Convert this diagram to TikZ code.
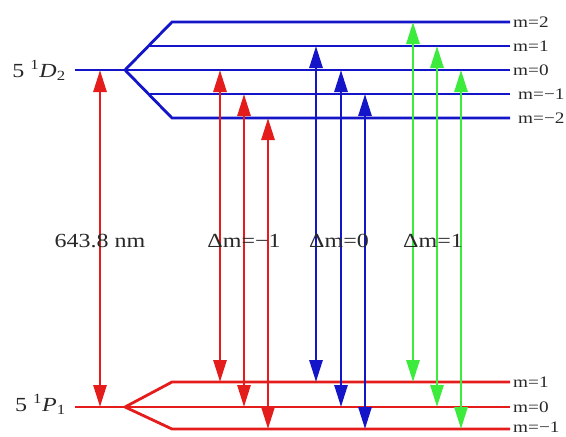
\documentclass[tikz,border=0pt]{standalone}
\usepackage{fontspec}
\setmainfont{Liberation Serif}
\usetikzlibrary{arrows.meta}
\definecolor{lvblue}{RGB}{20,20,200}
\definecolor{lvred}{RGB}{228,28,28}
\definecolor{lvgreen}{RGB}{60,235,60}
\definecolor{txtgray}{RGB}{40,40,40}
\begin{document}
\begin{tikzpicture}[x=1pt, y=-1pt]
  \tikzstyle{level}=[line width=2.8pt, line join=miter]
  \tikzstyle{trans}=[line width=2.8pt, {Triangle[length=22pt, width=13pt]}-{Triangle[length=22pt, width=13pt]}]
  \tikzstyle{mlabel}=[anchor=west, inner sep=0pt, text=txtgray, font=\fontsize{16}{16}\selectfont, xscale=1.2, transform shape]
  \tikzstyle{biglabel}=[inner sep=0pt, text=txtgray, font=\fontsize{20}{20}\selectfont, xscale=1.2, transform shape]

\useasboundingbox (0,0) rectangle (566,437);

\coordinate (D) at (75, 70);
\coordinate (Dsplit) at (125, 70);
\coordinate (u2s) at (172, 22);
\coordinate (u2e) at (510, 22);
\coordinate (u1s) at (148.5, 46);
\coordinate (u1e) at (510, 46);
\coordinate (u0e) at (510, 70);
\coordinate (um1s) at (148.5, 94);
\coordinate (um1e) at (510, 94);
\coordinate (um2s) at (172, 118);
\coordinate (um2e) at (510, 118);

\coordinate (P) at (75, 407);
\coordinate (Psplit) at (125, 407);
\coordinate (l1s) at (172, 382);
\coordinate (l1e) at (510, 382);
\coordinate (l0e) at (510, 407);
\coordinate (lm1s) at (172, 429);
\coordinate (lm1e) at (510, 429);

\node[biglabel, anchor=base east] (Dlab) at (66, 77) {5 \textsuperscript{1}\textit{D}\textsubscript{2}};
\node[biglabel, anchor=base east] (Plab) at (66, 411) {5 \textsuperscript{1}\textit{P}\textsubscript{1}};

\draw[level, lvblue] (D) -- (Dsplit) -- (u0e);
\draw[level, lvblue] (Dsplit) -- (u2s) -- (u2e);
\draw[level, lvblue] (u1s) -- (u1e);
\draw[level, lvblue] (Dsplit) -- (um2s) -- (um2e);
\draw[level, lvblue] (um1s) -- (um1e);

\draw[level, lvred] (P) -- (Psplit) -- (l0e);
\draw[level, lvred] (Psplit) -- (l1s) -- (l1e);
\draw[level, lvred] (Psplit) -- (lm1s) -- (lm1e);

\node[mlabel] (u2l) at (513, 22) {m=2};
\node[mlabel] (u1l) at (513, 46) {m=1};
\node[mlabel] (u0l) at (513, 70) {m=0};
\node[mlabel] (um1l) at (518, 94) {m=−1};
\node[mlabel] (um2l) at (518, 118) {m=−2};
\node[mlabel] (l1l) at (513, 382) {m=1};
\node[mlabel] (l0l) at (513, 407) {m=0};
\node[mlabel] (lm1l) at (513, 427) {m=−1};

\coordinate (a0) at (100, 0);
\coordinate (r1) at (220, 0);
\coordinate (r2) at (244, 0);
\coordinate (r3) at (268, 0);
\coordinate (b1) at (316, 0);
\coordinate (b2) at (341, 0);
\coordinate (b3) at (365, 0);
\coordinate (g1) at (413, 0);
\coordinate (g2) at (437, 0);
\coordinate (g3) at (461, 0);

\draw[trans, lvred] (a0 |- D) -- (a0 |- P);
\draw[trans, lvred] (r1 |- u0e) -- (r1 |- l1e);
\draw[trans, lvred] (r2 |- um1e) -- (r2 |- l0e);
\draw[trans, lvred] (r3 |- um2e) -- (r3 |- lm1e);
\draw[trans, lvblue] (b1 |- u1e) -- (b1 |- l1e);
\draw[trans, lvblue] (b2 |- u0e) -- (b2 |- l0e);
\draw[trans, lvblue] (b3 |- um1e) -- (b3 |- lm1e);
\draw[trans, lvgreen] (g1 |- u2e) -- (g1 |- l1e);
\draw[trans, lvgreen] (g2 |- u1e) -- (g2 |- l0e);
\draw[trans, lvgreen] (g3 |- u0e) -- (g3 |- lm1e);

\node[biglabel, anchor=base] (wave) at (100, 247) {643.8 nm};
\node[biglabel, anchor=base] (dmm1) at (244, 247) {Δm=−1};
\node[biglabel, anchor=base] (dm0) at (339, 247) {Δm=0};
\node[biglabel, anchor=base] (dmp1) at (433, 247) {Δm=1};
\end{tikzpicture}
\end{document}
